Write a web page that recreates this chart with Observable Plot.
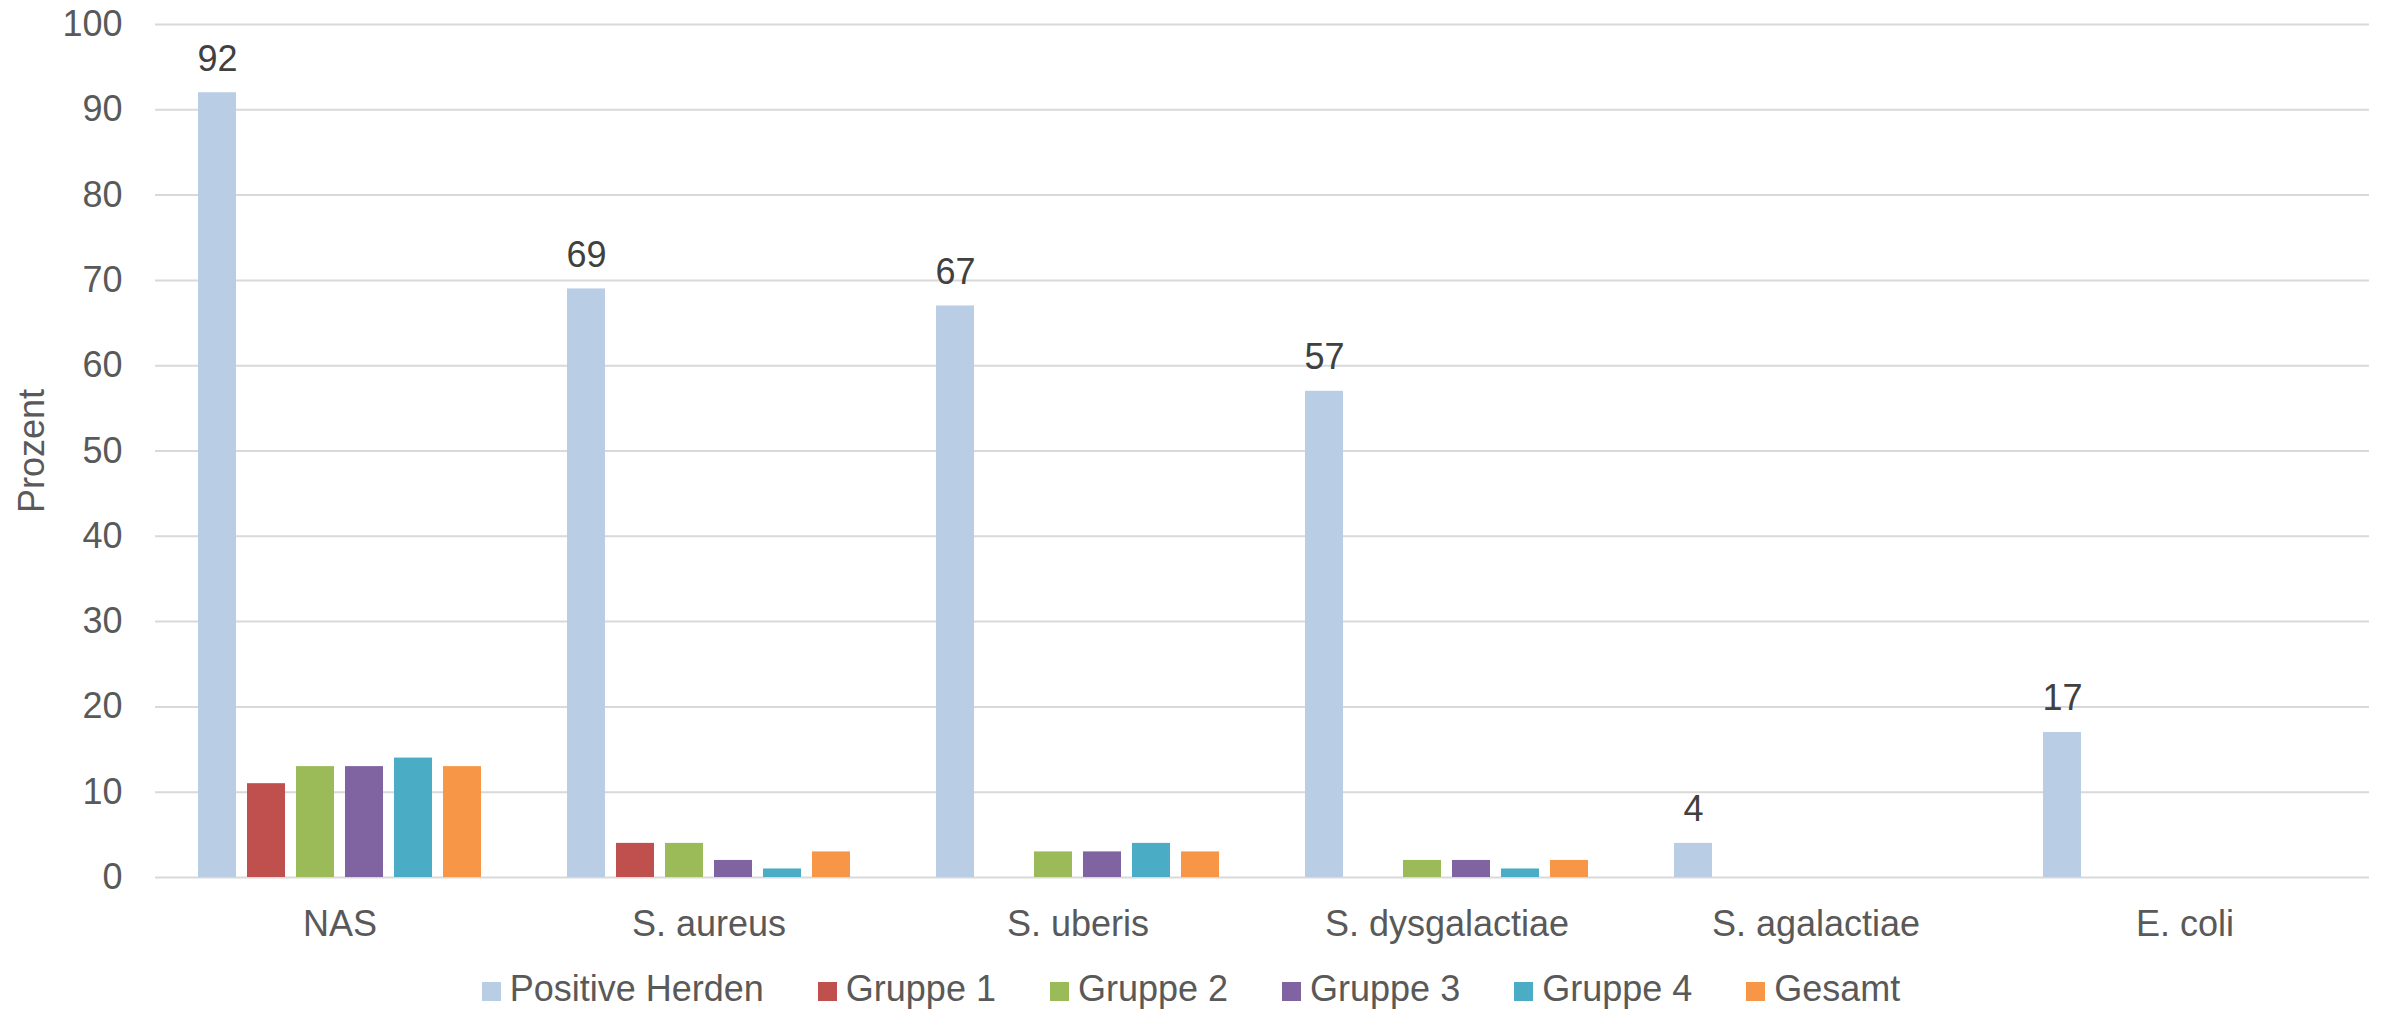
<!DOCTYPE html>
<html><head><meta charset="utf-8">
<script src="https://cdn.jsdelivr.net/npm/d3@7"></script>
<script src="https://cdn.jsdelivr.net/npm/@observablehq/plot@0.6"></script>
<style>
body{margin:0;background:#fff;}
#legend{height:47px;line-height:47px;padding-top:3px;text-align:center;white-space:nowrap;font-family:"Liberation Sans",Arial,sans-serif;font-size:36px;color:#595959;}
.item{display:inline-block;margin:0 27px;}
.sw{display:inline-block;width:19px;height:19px;margin-right:9px;vertical-align:baseline;}
</style></head><body>
<div id="chart"></div><div id="legend"></div>
<script>
const categories = ["NAS", "S. aureus", "S. uberis", "S. dysgalactiae", "S. agalactiae", "E. coli"];
const seriesNames = ["Positive Herden", "Gruppe 1", "Gruppe 2", "Gruppe 3", "Gruppe 4", "Gesamt"];
const seriesColors = ["#b9cde5", "#c0504d", "#9bbb59", "#8064a2", "#4bacc6", "#f79646"];
const positiveHerden = [92, 69, 67, 57, 4, 17];
const gruppe1 = [11, 4, null, null, null, null];
const gruppe2 = [13, 4, 3, 2, null, null];
const gruppe3 = [13, 2, 3, 2, null, null];
const gruppe4 = [14, 1, 4, 1, null, null];
const gesamt = [13, 3, 3, 2, null, null];
const yTicks = [0, 10, 20, 30, 40, 50, 60, 70, 80, 90, 100];

const allSeries = [positiveHerden, gruppe1, gruppe2, gruppe3, gruppe4, gesamt];
const rows = [];
categories.forEach((c, i) => {
  seriesNames.forEach((s, j) => {
    const v = allSeries[j][i];
    if (v != null) rows.push({category: c, series: s, value: v});
  });
});
const labelRows = rows.filter(d => d.series === "Positive Herden");

const font = '"Liberation Sans", Arial, sans-serif';
const chart = Plot.plot({
  width: 2382,
  height: 962,
  marginTop: 24,
  marginBottom: 85,
  marginLeft: 155,
  marginRight: 13,
  style: {fontFamily: font, fontSize: "36px", color: "#595959", background: "#fff"},
  fx: {domain: categories, padding: 0, label: null},
  x: {domain: seriesNames, paddingInner: 0.22, paddingOuter: 0.875, axis: null},
  y: {domain: [0, 100]},
  color: {domain: seriesNames, range: seriesColors},
  marks: [
    Plot.gridY(yTicks, {stroke: "#d9d9d9", strokeOpacity: 1, strokeWidth: 2}),
    Plot.barY(rows, {fx: "category", x: "series", y: "value", fill: "series"}),
    Plot.text(labelRows, {fx: "category", x: "series", y: "value", text: d => String(d.value), lineAnchor: "bottom", dy: -22, fill: "#404040", fontSize: 36}),
    Plot.axisFx({anchor: "bottom", tickSize: 0, tickPadding: 33, label: null, fontSize: 36}),
    Plot.axisY({ticks: yTicks, tickSize: 0, tickPadding: 33, label: "Prozent", labelAnchor: "center", labelArrow: "none", labelOffset: 137, fontSize: 36})
  ]
});
document.getElementById("chart").appendChild(chart);

const legend = document.getElementById("legend");
seriesNames.forEach((s, j) => {
  const item = document.createElement("span");
  item.className = "item";
  const sw = document.createElement("span");
  sw.className = "sw";
  sw.style.background = seriesColors[j];
  item.appendChild(sw);
  item.appendChild(document.createTextNode(s));
  legend.appendChild(item);
});
</script>
</body></html>
